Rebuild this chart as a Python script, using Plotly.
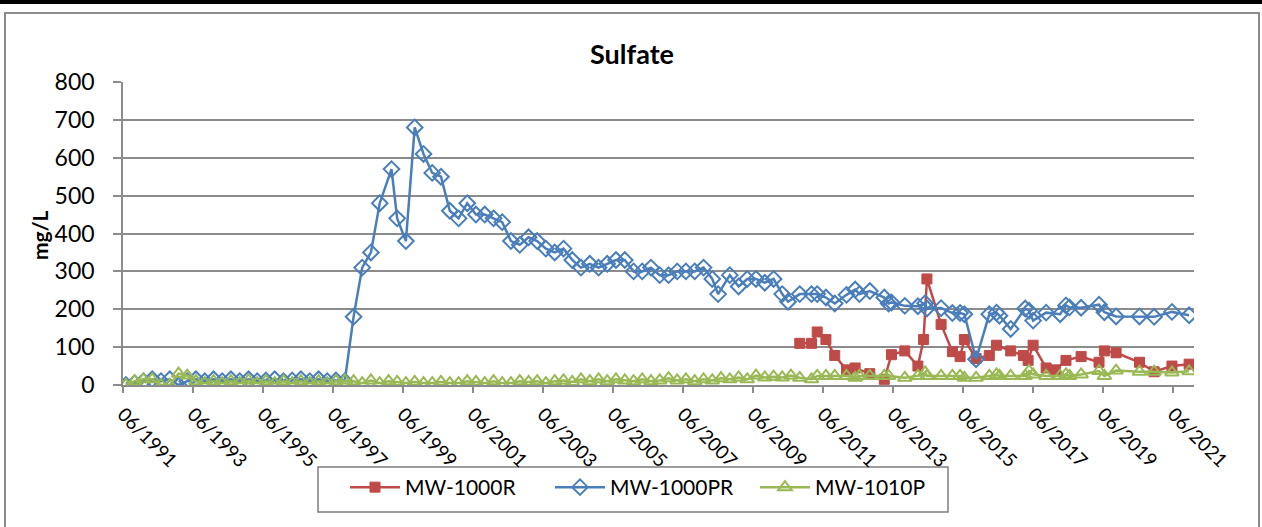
import plotly.graph_objects as go

# ---------------- data ----------------
pr_dates = [
    "1991-07-01", "1991-10-01", "1992-01-01", "1992-04-01", "1992-07-01", "1992-10-01",
    "1993-01-01", "1993-04-01", "1993-07-01", "1993-10-01", "1994-01-01", "1994-04-01",
    "1994-07-01", "1994-10-01", "1995-01-01", "1995-04-01", "1995-07-01", "1995-10-01",
    "1996-01-01", "1996-04-01", "1996-07-01", "1996-10-01", "1997-01-01", "1997-04-01",
    "1997-07-01", "1997-10-01",
    "1998-01-01", "1998-04-01", "1998-07-01", "1998-10-01", "1999-02-01", "1999-04-01",
    "1999-07-01", "1999-10-01", "2000-01-01", "2000-04-01", "2000-07-01", "2000-10-01",
    "2001-01-01", "2001-04-01", "2001-07-01", "2001-10-01", "2002-01-01", "2002-04-01",
    "2002-07-01", "2002-10-01", "2003-01-01", "2003-04-01", "2003-07-01", "2003-10-01",
    "2004-01-01", "2004-04-01", "2004-07-01", "2004-10-01", "2005-01-01", "2005-04-01",
    "2005-07-01", "2005-10-01", "2006-01-01", "2006-04-01", "2006-07-01", "2006-10-01",
    "2007-01-01", "2007-04-01", "2007-07-01", "2007-10-01", "2008-01-01", "2008-04-01",
    "2008-06-01", "2008-10-01", "2009-01-01", "2009-04-01", "2009-07-01", "2009-10-01",
    "2010-01-01", "2010-04-01", "2010-06-01", "2010-10-01",
    "2011-02-01", "2011-04-01", "2011-07-01", "2011-10-01", "2012-02-01", "2012-05-01",
    "2012-06-15", "2012-10-01", "2013-03-01", "2013-04-15", "2013-05-15", "2013-10-01",
    "2014-02-15", "2014-05-01", "2014-05-20", "2014-10-15", "2015-02-10", "2015-05-01",
    "2015-06-15", "2015-10-15", "2016-03-01", "2016-05-15", "2016-06-15", "2016-10-10",
    "2017-03-10", "2017-04-20", "2017-06-01", "2017-10-15", "2018-03-10", "2018-05-10",
    "2018-06-15", "2018-10-15", "2019-04-20", "2019-06-15", "2019-10-15", "2020-06-15",
    "2020-11-15", "2021-05-20", "2021-11-15",
]
pr_values = [
    0, 5, 10, 15, 10, 15,
    0, 10, 15, 10, 15, 10,
    15, 10, 15, 10, 12, 15,
    10, 12, 15, 10, 15, 10,
    12, 10,
    180, 310, 350, 480, 570, 440,
    380, 680, 610, 560, 550, 460,
    440, 480, 450, 450, 440, 430,
    380, 370, 390, 380, 360, 350,
    360, 330, 310, 320, 310, 320,
    330, 330, 300, 300, 310, 290,
    290, 300, 300, 300, 310, 280,
    240, 290, 260, 280, 280, 270,
    280, 240, 220, 240,
    240, 240, 231, 215, 238, 252,
    240, 248, 231, 215, 218, 209,
    208, 216, 202, 203, 190, 190,
    187, 68, 187, 191, 183, 148,
    202, 196, 170, 191, 187, 210,
    205, 204, 212, 192, 181, 181,
    180, 193, 184,
]

r_dates = [
    "2010-10-01", "2011-02-01", "2011-04-01", "2011-07-01", "2011-10-01", "2012-02-01",
    "2012-05-01", "2012-10-01", "2013-03-01", "2013-05-15", "2013-10-01", "2014-02-15",
    "2014-04-15", "2014-05-20", "2014-10-15", "2015-02-10", "2015-05-01", "2015-06-15",
    "2015-10-15", "2016-03-01", "2016-05-15", "2016-10-10", "2017-02-20", "2017-04-10",
    "2017-06-01", "2017-10-15", "2018-01-20", "2018-05-10", "2018-10-15", "2019-04-20",
    "2019-06-15", "2019-10-15", "2020-06-15", "2020-11-15", "2021-05-20", "2021-11-15",
]
r_values = [
    110, 110, 140, 120, 78, 40,
    45, 30, 15, 80, 90, 50,
    120, 280, 160, 88, 75, 120,
    70, 78, 105, 90, 78, 65,
    105, 45, 40, 65, 75, 60,
    90, 85, 60, 35, 50, 55,
]

p_dates = [
    "1991-07-01", "1991-10-01", "1992-01-01", "1992-04-01", "1992-07-01", "1992-10-01",
    "1993-01-01", "1993-04-01", "1993-07-01", "1993-10-01", "1994-01-01", "1994-04-01",
    "1994-07-01", "1994-10-01", "1995-01-01", "1995-04-01", "1995-07-01", "1995-10-01",
    "1996-01-01", "1996-04-01", "1996-07-01", "1996-10-01", "1997-01-01", "1997-04-01",
    "1997-07-01", "1997-10-01", "1998-01-01", "1998-04-01", "1998-07-01", "1998-10-01",
    "1999-01-01", "1999-04-01", "1999-07-01", "1999-10-01", "2000-01-01", "2000-04-01",
    "2000-07-01", "2000-10-01", "2001-01-01", "2001-04-01", "2001-07-01", "2001-10-01",
    "2002-01-01", "2002-04-01", "2002-07-01", "2002-10-01", "2003-01-01", "2003-04-01",
    "2003-07-01", "2003-10-01", "2004-01-01", "2004-04-01", "2004-07-01", "2004-10-01",
    "2005-01-01", "2005-04-01", "2005-07-01", "2005-10-01", "2006-01-01", "2006-04-01",
    "2006-07-01", "2006-10-01", "2007-01-01", "2007-04-01", "2007-07-01", "2007-10-01",
    "2008-01-01", "2008-04-01", "2008-07-01", "2008-10-01", "2009-01-01", "2009-04-01",
    "2009-07-01", "2009-10-01", "2010-01-01", "2010-04-01", "2010-07-01",
    "2010-10-01", "2011-02-01", "2011-04-01", "2011-07-01", "2011-10-01", "2012-02-01",
    "2012-05-01", "2012-06-15", "2012-10-01", "2013-03-01", "2013-04-15", "2013-10-01",
    "2014-02-15", "2014-05-01", "2014-05-20", "2014-10-15", "2015-02-10", "2015-05-01",
    "2015-06-15", "2015-10-15", "2016-03-01", "2016-05-15", "2016-06-15", "2016-10-10",
    "2017-03-10", "2017-04-20", "2017-06-01", "2017-10-15", "2018-03-10", "2018-05-10",
    "2018-06-15", "2018-10-15", "2019-04-20", "2019-06-15", "2019-10-15", "2020-06-15",
    "2020-11-15", "2021-05-20", "2021-11-15",
]
p_values = [
    0, 10, 15, 15, 0, 0,
    30, 25, 10, 5, 10, 5,
    10, 5, 12, 5, 10, 5,
    10, 5, 10, 5, 10, 5,
    10, 12, 10, 5, 12, 5,
    10, 8, 5, 8, 5, 5,
    8, 5, 5, 10, 8, 5,
    10, 5, 5, 10, 8, 10,
    5, 10, 12, 8, 15, 10,
    15, 10, 15, 12, 10, 15,
    10, 12, 18, 12, 15, 10,
    15, 12, 18, 15, 20, 15,
    25, 20, 22, 20, 25,
    19, 15, 24, 24, 24, 24,
    19, 24, 24, 24, 24, 19,
    24, 33, 24, 24, 24, 24,
    19, 19, 24, 28, 24, 24,
    24, 37, 28, 24, 24, 28,
    24, 28, 37, 24, 38, 35,
    35, 33, 36,
]

series_names = ["MW-1000R", "MW-1000PR", "MW-1010P"]
chart_title = "Sulfate"
y_title = "mg/L"

# ---------------- styling ----------------
FONT = "Lato, 'Open Sans', sans-serif"
RED, BLUE, GREEN = "#BE4B48", "#4A7EBB", "#98B954"
GRID = "#8C8C8C"

fig = go.Figure()
fig.add_trace(go.Scatter(
    x=r_dates, y=r_values, name=series_names[0], mode="lines+markers",
    line=dict(color=RED, width=2.5),
    marker=dict(symbol="square", size=10, color=RED, line=dict(color=RED, width=1)),
))
fig.add_trace(go.Scatter(
    x=pr_dates, y=pr_values, name=series_names[1], mode="lines+markers",
    line=dict(color=BLUE, width=2.5),
    marker=dict(symbol="diamond-open", size=12, color=BLUE, line=dict(color=BLUE, width=2)),
))
fig.add_trace(go.Scatter(
    x=p_dates, y=p_values, name=series_names[2], mode="lines+markers",
    line=dict(color=GREEN, width=2.5),
    marker=dict(symbol="triangle-up-open", size=12, color=GREEN, line=dict(color=GREEN, width=2)),
))

W, H = 1262, 527
L, R, T, B = 123, 68, 82, 142
pw, ph = W - L - R, H - T - B


def px(x):
    return (x - L) / pw


def py(y):
    return (H - B - y) / ph


fig.update_layout(
    width=W, height=H,
    margin=dict(l=L, r=R, t=T, b=B, pad=0),
    paper_bgcolor="white", plot_bgcolor="white",
    font=dict(family=FONT, color="black", size=18),
    showlegend=True,
    legend=dict(
        orientation="h", x=px(345), y=py(467), xanchor="left", yanchor="top",
        borderwidth=0, bgcolor="rgba(0,0,0,0)",
        font=dict(size=21, family=FONT), itemwidth=50,
        entrywidth=140, tracegroupgap=0,
    ),
    xaxis=dict(
        type="date",
        range=["1991-06-01", "2022-01-05"],
        tick0="1991-06-01", dtick="M24", tickformat="%m/%Y",
        tickangle=45, ticks="outside", ticklen=6, tickwidth=1.5, tickcolor=GRID,
        showline=True, linecolor=GRID, linewidth=1.5,
        showgrid=False, zeroline=False,
        tickfont=dict(size=19, family=FONT), ticklabelstandoff=3,
    ),
    yaxis=dict(
        range=[0, 800], dtick=100, tick0=0,
        ticks="outside", ticklen=8, tickwidth=1.5, tickcolor=GRID,
        showline=True, linecolor=GRID, linewidth=1.5,
        showgrid=True, gridcolor=GRID, gridwidth=1.5, zeroline=False,
        tickfont=dict(size=23, family=FONT), ticklabelstandoff=14,
    ),
    annotations=[
        dict(text="<b>" + chart_title + "</b>", x=px(632), y=py(53), xref="paper", yref="paper",
             showarrow=False, font=dict(size=27, family=FONT), xanchor="center", yanchor="middle"),
        dict(text="<b>" + y_title + "</b>", x=px(40), y=py(236), xref="paper", yref="paper",
             showarrow=False, textangle=-90, font=dict(size=21, family=FONT),
             xanchor="center", yanchor="middle"),
    ],
    shapes=[
        dict(type="rect", xref="paper", yref="paper", x0=px(5), x1=px(1259), y0=py(540), y1=py(13),
             line=dict(color="#8C8C8C", width=2), fillcolor="rgba(0,0,0,0)", layer="below"),
        dict(type="rect", xref="paper", yref="paper", x0=px(-5), x1=px(1270), y0=py(4), y1=py(-5),
             line=dict(width=0), fillcolor="black"),
        dict(type="rect", xref="paper", yref="paper", x0=px(318), x1=px(948), y0=py(512), y1=py(467),
             line=dict(color="#7F7F7F", width=1.5), fillcolor="white", layer="below"),
    ],
)

fig.write_html(
    "out.html",
    config={"displayModeBar": False},
    post_script="document.body.style.margin='0';document.body.style.overflow='hidden';",
)
